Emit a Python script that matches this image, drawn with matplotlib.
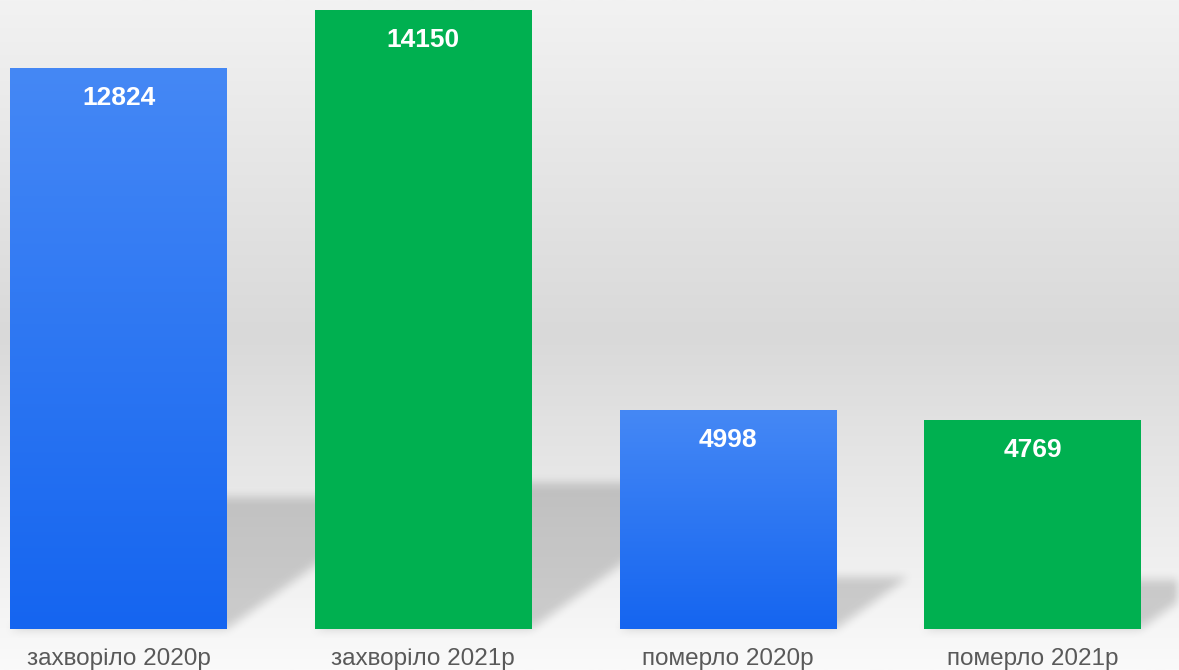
import matplotlib.pyplot as plt
import numpy as np
from matplotlib.colors import LinearSegmentedColormap

categories = ['захворіло 2020р', 'захворіло 2021р', 'померло 2020р', 'померло 2021р']
values = [12824, 14150, 4998, 4769]
kinds = ['blue', 'green', 'blue', 'green']

plt.rcParams['font.family'] = ['Liberation Sans', 'DejaVu Sans']

W, H = 1179, 670
fig = plt.figure(figsize=(W / 100, H / 100), dpi=100)
ax = fig.add_axes([0, 0, 1, 1])
xlim = (-0.389, 3.48)
ylim = (-937, 14377)
ax.set_xlim(*xlim)
ax.set_ylim(*ylim)
ax.axis('off')

# background gradient (light top, grey middle, almost white at bottom)
bg = LinearSegmentedColormap.from_list('bg', [(0, '#fafafa'), (0.5, '#d9d9d9'), (1, '#f2f2f2')])
grad = np.linspace(0, 1, 256).reshape(-1, 1)
ax.imshow(grad, cmap=bg, aspect='auto', extent=[0, 1, 0, 1],
          transform=ax.transAxes, origin='lower', zorder=0)

x = np.arange(len(values))
width = 0.712

# perspective shadows: parallelograms on a data grid, then blurred
xs = np.linspace(xlim[0], xlim[1], W)
ys = np.linspace(ylim[0], ylim[1], H)
X, Y = np.meshgrid(xs, ys)
mask = np.zeros_like(X)
px_x = (xlim[1] - xlim[0]) / W
px_y = (ylim[1] - ylim[0]) / H
for xi, v in zip(x, values):
    sh = 0.235 * v
    w = 1.39 * (sh / px_y) * px_x
    xl, xr = xi - width / 2, xi + width / 2
    shift = np.clip(Y, 0, None) / sh * w
    inside = (Y >= 0) & (Y <= sh) & (X >= xl + shift) & (X <= xr + shift)
    mask[inside] = 1.0


def blur(a, r, axis):
    k = np.ones(2 * r + 1) / (2 * r + 1)
    return np.apply_along_axis(lambda m: np.convolve(m, k, mode='same'), axis, a)


for _ in range(2):
    mask = blur(mask, 5, 0)
    mask = blur(mask, 5, 1)
shadow = np.zeros((H, W, 4))
shadow[..., 3] = 0.17 * mask
ax.imshow(shadow, aspect='auto', origin='lower', extent=[*xlim, *ylim], zorder=1)

# bars
blue = LinearSegmentedColormap.from_list('bl', ['#1565f0', '#4588f5'])
bars = ax.bar(x, values, width=width, color=['none' if k == 'blue' else '#00b050' for k in kinds],
              edgecolor='none', zorder=2)
for b, k in zip(bars, kinds):
    if k == 'blue':
        im = ax.imshow(grad, cmap=blue, aspect='auto', origin='lower',
                       extent=[b.get_x(), b.get_x() + b.get_width(), 0, b.get_height()], zorder=2)
        im.set_clip_path(b)

for xi, v in zip(x, values):
    ax.annotate(str(v), (xi, v), xytext=(0, -30), textcoords='offset pixels',
                ha='center', va='center', color='white', fontsize=19, fontweight='bold', zorder=3)
    ax.annotate(categories[xi], (xi, 0), xytext=(0, -30), textcoords='offset pixels',
                ha='center', va='center', color='#595959', fontsize=17.5, zorder=3)

ax.set_xlim(*xlim)
ax.set_ylim(*ylim)
fig.savefig('out.png', dpi=100)
